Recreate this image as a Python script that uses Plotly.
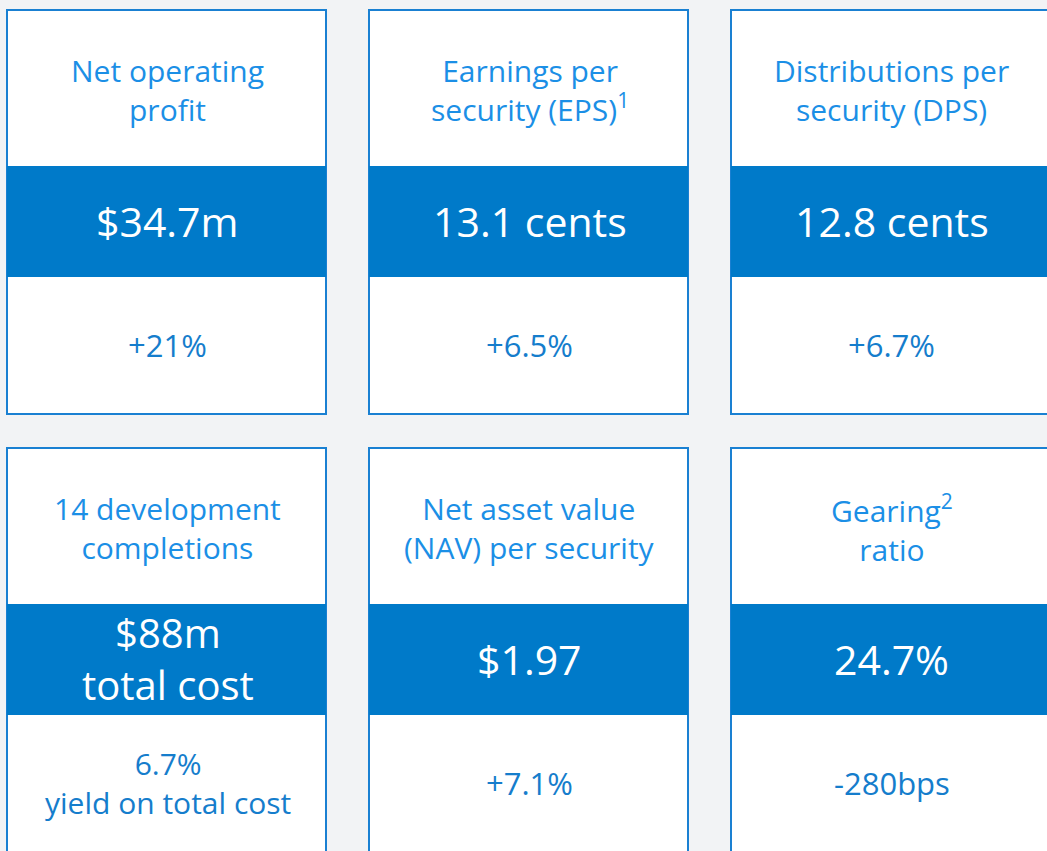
import plotly.graph_objects as go

# ---- data ----
titles = [
    "Net operating<br>profit",
    "Earnings per<br>security (EPS)<sup>1</sup>",
    "Distributions per<br>security (DPS)",
    "14 development<br>completions",
    "Net asset value<br>(NAV) per security",
    "Gearing<sup>2</sup><br>ratio",
]
values = ["$34.7m", "13.1 cents", "12.8 cents", "$88m<br>total cost", "$1.97", "24.7%"]
changes = ["+21%", "+6.5%", "+6.7%", "6.7%<br>yield on total cost", "+7.1%", "-280bps"]

# ---- layout constants ----
W, H = 1047, 851
col_x0 = [7, 369, 731]
card_w = 319
row_y0 = [10, 448]
title_h = 156
band_h = 111
card_h = 404

BG = "#f2f3f5"
BORDER = "#1a80d2"
BAND = "#007ac9"
TITLE_C = "#1b8fe6"
CHANGE_C = "#157dcc"
FONT = "'Open Sans', 'Noto Sans', sans-serif"

fig = go.Figure()
shapes = []
annotations = []


def add_text(text, cx, yc, size, color):
    annotations.append(dict(x=cx, y=yc, text=text, showarrow=False,
                            xanchor="center", yanchor="middle",
                            font=dict(family=FONT, size=size, color=color)))


for i, (t, v, c) in enumerate(zip(titles, values, changes)):
    r, k = divmod(i, 3)
    x0 = col_x0[k]
    x1 = x0 + card_w if k < 2 else W + 10
    y0 = row_y0[r]
    y1 = y0 + card_h
    cx = x0 + card_w / 2 + 1
    shapes.append(dict(type="rect", x0=x0, x1=x1, y0=y0, y1=y1,
                       fillcolor="white", line=dict(color=BORDER, width=2), layer="below"))
    shapes.append(dict(type="rect", x0=x0, x1=x1, y0=y0 + title_h, y1=y0 + title_h + band_h,
                       fillcolor=BAND, line=dict(width=0), layer="below"))
    add_text(t, cx, y0 + 80, 30, TITLE_C)
    add_text(v, cx, y0 + title_h + band_h / 2 - 1, 40 if "<br>" in v else 41, "white")
    add_text(c, cx, y0 + title_h + band_h + 68, 30 if "<br>" in c else 31, CHANGE_C)

fig.update_layout(
    width=W, height=H,
    margin=dict(l=0, r=0, t=0, b=0),
    paper_bgcolor=BG, plot_bgcolor=BG,
    shapes=shapes, annotations=annotations,
    xaxis=dict(range=[0, W], visible=False, fixedrange=True),
    yaxis=dict(range=[H, 0], visible=False, fixedrange=True),
    showlegend=False,
)
fig.write_html("out.html", config={"displayModeBar": False},
               post_script="document.body.style.margin='0';document.body.style.background='%s';" % BG)
